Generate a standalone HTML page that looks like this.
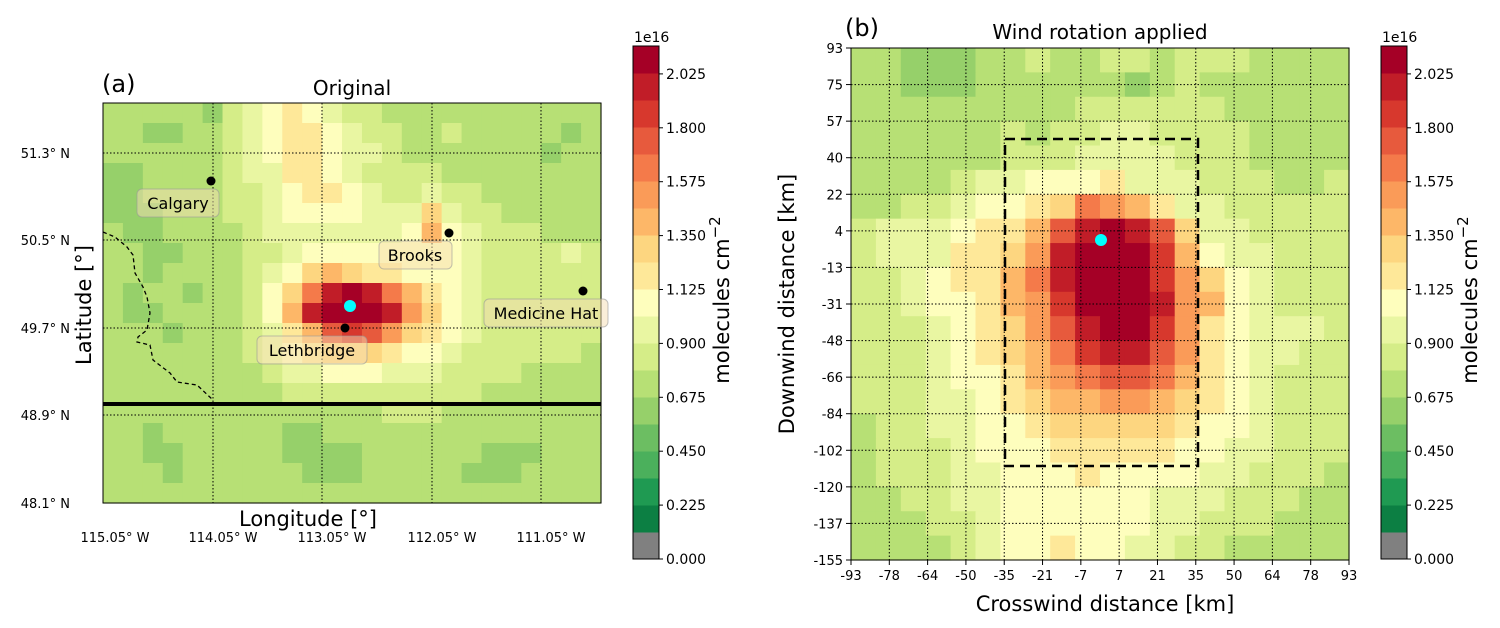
<!DOCTYPE html>
<html><head><meta charset="utf-8"><style>
body{margin:0;background:#fff;}
svg{display:block;font-family:"DejaVu Sans","Liberation Sans",sans-serif;}
</style></head><body>
<svg id="s" width="1500" height="628" viewBox="0 0 1500 628" xmlns="http://www.w3.org/2000/svg">
<g id="heatA"></g>
<g id="heatB"></g>
<g id="gridA"></g>
<g id="gridB"></g>
<g id="cbA"></g>
<g id="cbB"></g>
<g id="ticks"></g>
</svg>
<script>
const colors=["#808080","#0c7f43","#1f9a52","#4bb05c","#6cbe62","#96d06a","#b7e075","#d5ed88","#e9f6a2","#fefebd","#fee899","#fdd680","#fdb768","#fa9b58","#f47a4a","#e75a3d","#d7382d","#c11d28","#a50026"];
const cbTicks=["0.000","0.225","0.450","0.675","0.900","1.125","1.350","1.575","1.800","2.025"];
const gridA=[
[6,6,6,6,6,5,7,8,9,10,9,8,7,7,6,6,6,6,6,6,6,6,6,6,6],
[6,6,5,5,6,6,7,8,9,10,10,9,8,7,7,6,6,7,6,6,6,6,6,5,6],
[6,6,6,6,6,6,7,8,9,10,10,9,8,8,7,6,6,6,6,6,6,6,5,6,6],
[5,5,6,6,6,6,7,8,8,10,10,9,8,7,7,7,7,6,6,6,6,6,6,6,6],
[5,5,6,6,6,6,7,7,8,9,10,10,9,8,7,7,8,7,7,6,6,6,6,6,6],
[5,5,5,6,6,6,7,7,8,9,9,9,9,8,8,8,11,8,7,7,6,6,6,6,6],
[6,5,5,6,6,6,6,7,8,8,8,8,8,8,8,9,12,9,8,7,7,7,6,6,6],
[6,6,5,5,6,6,6,7,7,8,9,9,9,9,9,9,9,9,8,7,7,7,7,8,7],
[6,6,5,6,6,6,6,7,8,9,11,12,11,10,10,9,9,9,8,7,7,7,7,7,7],
[6,5,6,6,5,6,6,7,9,11,14,17,18,17,14,12,10,9,8,7,7,7,7,7,7],
[6,5,5,6,6,6,6,7,9,12,17,18,18,18,17,13,11,9,8,7,7,7,7,7,7],
[6,6,6,5,6,6,6,7,8,10,12,15,16,15,13,11,10,9,8,7,7,7,7,7,7],
[6,6,6,6,6,6,6,7,8,9,10,11,11,11,10,9,9,8,7,7,7,7,7,7,6],
[6,6,6,6,6,6,6,6,7,8,8,9,9,9,8,8,8,7,7,7,7,6,6,6,6],
[6,6,6,6,6,6,6,6,6,7,7,7,7,7,7,7,7,7,7,6,6,6,6,6,6],
[6,6,6,6,6,6,6,6,6,6,6,6,6,6,7,7,7,6,6,6,6,6,6,6,6],
[6,6,5,6,6,6,6,6,6,5,5,6,6,6,6,6,6,6,6,6,6,6,6,6,6],
[6,6,5,5,6,6,6,6,6,5,5,5,5,6,6,6,6,6,6,5,5,5,6,6,6],
[6,6,6,5,6,6,6,6,6,6,5,5,5,6,6,6,6,6,5,5,5,6,6,6,6],
[6,6,6,6,6,6,6,6,6,6,6,6,6,6,6,6,6,6,6,6,6,6,6,6,6]];
const gridB=[
[6,6,5,5,5,6,6,7,6,6,7,7,6,7,7,7,6,6,6,6],
[6,6,5,5,5,6,6,6,6,6,6,5,6,7,6,6,6,6,6,6],
[6,6,6,6,6,6,6,6,6,7,7,7,7,7,7,6,6,6,6,6],
[6,6,6,6,6,6,7,6,7,7,8,8,7,7,7,7,6,6,6,6],
[6,6,6,6,6,6,7,7,7,8,8,8,8,7,7,7,6,6,6,6],
[6,6,6,6,7,8,8,9,9,9,10,8,8,8,7,7,7,6,6,7],
[6,6,7,7,8,9,9,10,11,14,13,12,10,8,8,7,7,7,7,7],
[7,8,8,8,9,10,10,12,15,17,18,17,15,11,8,8,7,7,7,7],
[7,8,8,8,10,10,11,13,17,18,18,18,16,12,9,8,8,7,7,7],
[7,7,8,9,10,10,12,14,17,18,18,18,16,13,11,9,8,7,7,7],
[7,7,8,9,9,10,12,13,16,18,18,18,17,13,12,9,8,7,7,7],
[7,7,7,8,9,10,11,13,15,17,18,18,16,13,10,9,8,8,8,7],
[7,7,7,8,9,10,11,12,14,16,17,17,15,13,10,9,8,8,7,7],
[7,7,7,8,9,9,10,12,13,14,15,15,14,12,10,9,8,7,7,7],
[7,7,7,8,8,9,10,11,12,12,13,13,12,11,10,9,8,7,7,7],
[6,7,7,8,8,9,9,10,11,11,11,11,11,10,9,9,8,7,7,7],
[6,7,7,7,8,9,9,9,10,10,10,10,10,9,9,8,8,7,7,7],
[6,7,7,7,8,8,9,9,9,10,9,9,9,9,8,8,7,7,7,6],
[6,6,7,7,8,8,9,9,9,9,9,9,8,8,8,7,7,7,6,6],
[6,6,6,7,7,8,9,9,9,9,9,9,8,8,7,7,7,6,6,6],
[6,6,6,6,7,8,9,9,10,9,9,8,8,7,7,6,6,6,6,6]];
const latTicks=["51.3° N","50.5° N","49.7° N","48.9° N","48.1° N"];
const lonTicks=["115.05° W","114.05° W","113.05° W","112.05° W","111.05° W"];
const downTicks=["93","75","57","40","22","4","-13","-31","-48","-66","-84","-102","-120","-137","-155"];
const crossTicks=["-93","-78","-64","-50","-35","-21","-7","7","21","35","50","64","78","93"];

const NS="http://www.w3.org/2000/svg";
function mk(tag,attrs,parent,text){const e=document.createElementNS(NS,tag);for(const k in attrs)e.setAttribute(k,attrs[k]);if(text!==undefined)e.textContent=text;(parent||document.getElementById('s')).appendChild(e);return e;}
function drawHeat(g,grid,x0,y0,w,h,name){
  const rows=grid.length,cols=grid[0].length,cw=w/cols,ch=h/rows;
  grid.forEach((row,r)=>row.forEach((v,c)=>{
    const e=mk('rect',{x:(x0+c*cw).toFixed(2),y:(y0+r*ch).toFixed(2),width:(cw+0.6).toFixed(2),height:(ch+0.6).toFixed(2),fill:colors[v]},g);
    
    
  }));
}
drawHeat(document.getElementById('heatA'),gridA,103,103,498,400,'heat-cell-a');
drawHeat(document.getElementById('heatB'),gridB,851,48,498,512,'heat-cell-b');

function drawCb(g,x,name){
  const top=46,bot=559,bh=(bot-top)/colors.length;
  colors.forEach((c,i)=>{
    const e=mk('rect',{x:x,y:(bot-(i+1)*bh).toFixed(2),width:26,height:(bh+0.5).toFixed(2),fill:c},g);
    
    
  });
  mk('rect',{x:x,y:top,width:26,height:bot-top,fill:'none',stroke:'#000','stroke-width':1},g);
  cbTicks.forEach((t,i)=>{
    const y=bot-i*53.9;
    mk('line',{x1:x+26,x2:x+30,y1:y,y2:y,stroke:'#000'},g);
    const e=mk('text',{x:x+33,y:y+5,'font-size':14},g,t);
    
    
  });
  mk('text',{x:x+1,y:42,'font-size':14},g,'1e16');
  const lab=mk('text',{x:0,y:0,'font-size':21,'text-anchor':'middle',transform:`translate(${x+96},300) rotate(-90)`},g);
  
  
  lab.innerHTML='molecules cm<tspan dy="-9" font-size="15">−2</tspan>';
}
drawCb(document.getElementById('cbA'),633,'colorbar-a');
drawCb(document.getElementById('cbB'),1381,'colorbar-b');

const gA=document.getElementById('gridA'),T=document.getElementById('ticks');
const latY=[153,240,328,415,503],lonX=[113,213,322,432,541];
latY.forEach((y,i)=>{ if(i<4) mk('line',{x1:103,x2:601,y1:y,y2:y,stroke:'#000','stroke-width':1,'stroke-dasharray':'1.5,2'},gA);
  const e=mk('text',{x:70,y:y+5,'font-size':13,'text-anchor':'end'},T,latTicks[i]);
  
  });
lonX.forEach((x,i)=>{ if(i>0) mk('line',{x1:x,x2:x,y1:103,y2:503,stroke:'#000','stroke-width':1,'stroke-dasharray':'1.5,2'},gA);
  const e=mk('text',{x:x+(i==0?2:10),y:542,'font-size':13,'text-anchor':'middle'},T,lonTicks[i]);
  
  });

const gB=document.getElementById('gridB');
downTicks.forEach((t,i)=>{const y=48+i*512/14;
  if(i>0&&i<14) mk('line',{x1:851,x2:1349,y1:y,y2:y,stroke:'#000','stroke-width':1,'stroke-dasharray':'1.5,2'},gB);
  mk('line',{x1:846,x2:851,y1:y,y2:y,stroke:'#000'},gB);
  const e=mk('text',{x:843,y:y+5,'font-size':13,'text-anchor':'end'},T,t);
  
  });
crossTicks.forEach((t,i)=>{const x=851+i*498/13;
  if(i>0&&i<13) mk('line',{x1:x,x2:x,y1:48,y2:560,stroke:'#000','stroke-width':1,'stroke-dasharray':'1.5,2'},gB);
  mk('line',{x1:x,x2:x,y1:560,y2:565,stroke:'#000'},gB);
  const e=mk('text',{x:x,y:580,'font-size':13,'text-anchor':'middle'},T,t);
  
  });
</script>
<svg width="1500" height="628" style="position:absolute;left:0;top:0" xmlns="http://www.w3.org/2000/svg">
<g font-family="DejaVu Sans, Liberation Sans, sans-serif">
<path d="M103,232 L115,237 L127,247 L133,255 L135,273 L143,287 L147,297 L150,313 L147,330 L138,337 L137,342 L150,345 L153,360 L170,373 L177,382 L197,385 L213,400" fill="none" stroke="#000" stroke-width="1.3" stroke-dasharray="4,3"/>
<line x1="103" x2="601" y1="404" y2="404" stroke="#000" stroke-width="4"/>
<rect x="103" y="103" width="498" height="400" fill="none" stroke="#000" stroke-width="1"/>
<rect x="851" y="48" width="498" height="512" fill="none" stroke="#000" stroke-width="1"/>
<g><circle cx="211" cy="181" r="4.5"/><rect x="137" y="189" width="82" height="28" rx="5" fill="#f5deb3" fill-opacity="0.5" stroke="#999" stroke-opacity="0.6"/><text x="178" y="209" font-size="16" text-anchor="middle">Calgary</text></g>
<g><circle cx="449" cy="233" r="4.5"/><rect x="379" y="241" width="73" height="28" rx="5" fill="#f5deb3" fill-opacity="0.5" stroke="#999" stroke-opacity="0.6"/><text x="415" y="261" font-size="16" text-anchor="middle">Brooks</text></g>
<g><circle cx="583" cy="291" r="4.5"/><rect x="484" y="299" width="124" height="28" rx="5" fill="#f5deb3" fill-opacity="0.5" stroke="#999" stroke-opacity="0.6"/><text x="546" y="319" font-size="16" text-anchor="middle">Medicine Hat</text></g>
<g><circle cx="345" cy="328" r="4.5"/><rect x="257" y="336" width="110" height="28" rx="5" fill="#f5deb3" fill-opacity="0.5" stroke="#999" stroke-opacity="0.6"/><text x="312" y="356" font-size="16" text-anchor="middle">Lethbridge</text></g>
<circle cx="350" cy="306" r="6" fill="#00ffff"/>
<rect x="1005" y="139" width="193" height="327" fill="none" stroke="#000" stroke-width="2.5" stroke-dasharray="10,6"/>
<circle cx="1101" cy="240" r="6" fill="#00ffff"/>
<text x="102" y="92" font-size="24">(a)</text>
<text x="352" y="95" font-size="20" text-anchor="middle">Original</text>
<text x="308" y="526" font-size="21" text-anchor="middle">Longitude [°]</text>
<text transform="translate(91,305) rotate(-90)" font-size="21" text-anchor="middle">Latitude [°]</text>
<text x="845" y="36" font-size="24">(b)</text>
<text x="1100" y="39" font-size="20" text-anchor="middle">Wind rotation applied</text>
<text x="1105" y="611" font-size="21" text-anchor="middle">Crosswind distance [km]</text>
<text transform="translate(794,304) rotate(-90)" font-size="21" text-anchor="middle">Downwind distance [km]</text>
</g></svg>
</body></html>
